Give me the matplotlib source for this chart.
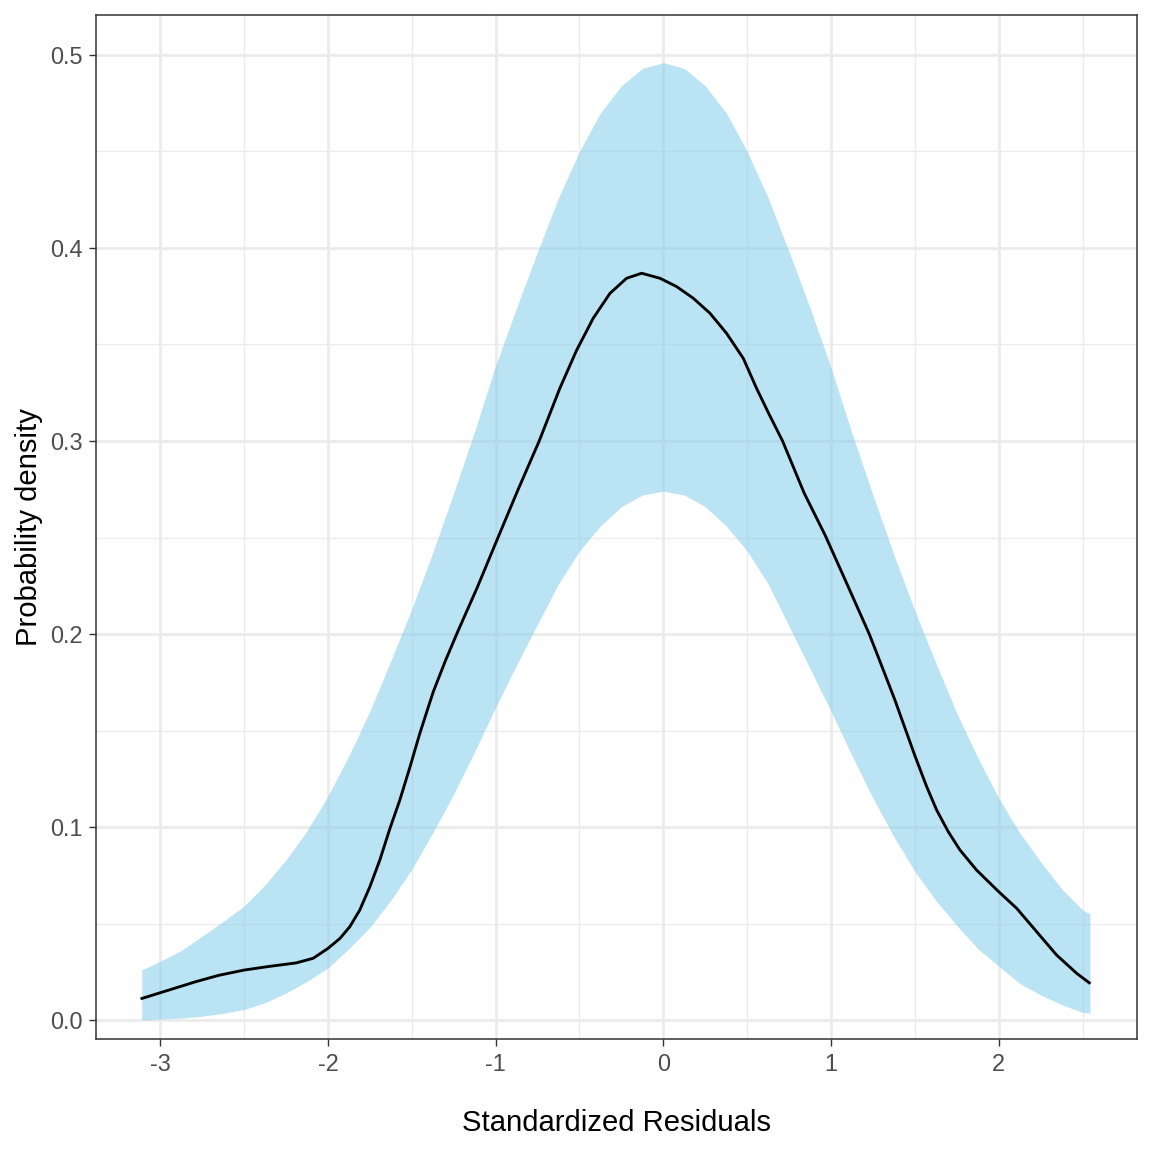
import numpy as np
import matplotlib
matplotlib.use("Agg")
import matplotlib.pyplot as plt
from matplotlib import rcParams

rcParams.update({
    "font.family": ["Liberation Sans", "DejaVu Sans"],
    "axes.unicode_minus": False,
})

# confidence band
band_x = [-3.11, -3.0, -2.875, -2.75, -2.625, -2.5, -2.375, -2.25, -2.125, -2.0,
          -1.875, -1.75, -1.625, -1.5, -1.375, -1.25, -1.125, -1.0,
          -0.875, -0.75, -0.625, -0.5, -0.375, -0.25, -0.125, 0.0,
          0.125, 0.25, 0.375, 0.5, 0.625, 0.75, 0.875, 1.0,
          1.125, 1.25, 1.375, 1.5, 1.625, 1.75, 1.875, 2.0,
          2.125, 2.25, 2.375, 2.5, 2.544]
band_hi = [0.026, 0.0305, 0.036, 0.0435, 0.051, 0.059, 0.070, 0.083, 0.098, 0.116,
           0.137, 0.160, 0.186, 0.213, 0.242, 0.273, 0.305, 0.339,
           0.369, 0.398, 0.426, 0.450, 0.470, 0.484, 0.493, 0.496,
           0.493, 0.484, 0.470, 0.450, 0.426, 0.398, 0.369, 0.338,
           0.304, 0.272, 0.241, 0.212, 0.185, 0.159, 0.136, 0.115,
           0.097, 0.082, 0.068, 0.057, 0.055]
band_lo = [0.000, 0.0005, 0.001, 0.002, 0.0035, 0.0055, 0.009, 0.014, 0.020, 0.027,
           0.037, 0.048, 0.062, 0.078, 0.097, 0.117, 0.139, 0.162,
           0.184, 0.205, 0.226, 0.243, 0.256, 0.266, 0.272, 0.274,
           0.272, 0.266, 0.256, 0.243, 0.226, 0.204, 0.182, 0.160,
           0.137, 0.115, 0.095, 0.077, 0.062, 0.049, 0.037, 0.028,
           0.019, 0.013, 0.008, 0.004, 0.0035]

# kernel density of residuals
dens_x = [-3.109, -2.95, -2.787, -2.65, -2.5, -2.35, -2.19, -2.088, -2.0, -1.928,
          -1.869, -1.81, -1.75, -1.69, -1.63, -1.571, -1.511, -1.452, -1.372, -1.3,
          -1.227, -1.11, -1.0, -0.87, -0.74, -0.617, -0.517, -0.418, -0.318, -0.219,
          -0.129, -0.02, 0.079, 0.178, 0.278, 0.377, 0.477, 0.556, 0.63, 0.711,
          0.84, 0.966, 1.1, 1.228, 1.3, 1.381, 1.44, 1.5, 1.57, 1.63,
          1.699, 1.769, 1.868, 2.0, 2.107, 2.226, 2.345, 2.465, 2.54]
dens_y = [0.0112, 0.0155, 0.0199, 0.0232, 0.0259, 0.0278, 0.0296, 0.032, 0.0371, 0.0423,
          0.0484, 0.057, 0.069, 0.083, 0.0993, 0.114, 0.131, 0.1485, 0.170, 0.186,
          0.201, 0.224, 0.247, 0.274, 0.300, 0.3273, 0.347, 0.3636, 0.3765, 0.3843,
          0.3869, 0.3843, 0.380, 0.374, 0.3662, 0.3558, 0.3428, 0.3273, 0.314, 0.300,
          0.273, 0.251, 0.225, 0.200, 0.184, 0.1658, 0.1515, 0.137, 0.121, 0.1088,
          0.0976, 0.0881, 0.0777, 0.0665, 0.0579, 0.0458, 0.0337, 0.0242, 0.0193]

x_ticks = [-3, -2, -1, 0, 1, 2]
y_ticks = [0.0, 0.1, 0.2, 0.3, 0.4, 0.5]

fig = plt.figure(figsize=(11.52, 11.52), dpi=100)
ax = fig.add_axes([0.0833, 0.0981, 0.9036, 0.8889])

ax.fill_between(band_x, band_lo, band_hi, color="#87CEEB", alpha=0.57,
                linewidth=0, zorder=2)
ax.plot(dens_x, dens_y, color="black", lw=2.05, zorder=3,
        solid_joinstyle="round")

ax.set_xlim(-3.383, 2.824)
ax.set_ylim(-0.0098, 0.5207)
ax.set_xticks(x_ticks)
ax.set_xticklabels([str(v) for v in x_ticks])
ax.set_yticks(y_ticks)
ax.set_yticklabels(["%.1f" % v for v in y_ticks])
ax.set_xticks([-2.5, -1.5, -0.5, 0.5, 1.5, 2.5], minor=True)
ax.set_yticks([0.05, 0.15, 0.25, 0.35, 0.45], minor=True)

ax.grid(which="major", color="#EBEBEB", lw=2.0, zorder=0)
ax.grid(which="minor", color="#EBEBEB", lw=1.0, zorder=0)
ax.set_axisbelow(True)

ax.tick_params(which="major", length=5.3, width=1.0, color="#333333",
               labelsize=16.9, labelcolor="#4D4D4D", pad=4.5)
ax.tick_params(which="minor", length=0)
for s in ax.spines.values():
    s.set_color("#333333")
    s.set_linewidth(1.1)

ax.set_xlabel("Standardized Residuals", fontsize=21.1, labelpad=24)
ax.set_ylabel("Probability density", fontsize=21.1, labelpad=5)

fig.savefig("out.png", dpi=100)
